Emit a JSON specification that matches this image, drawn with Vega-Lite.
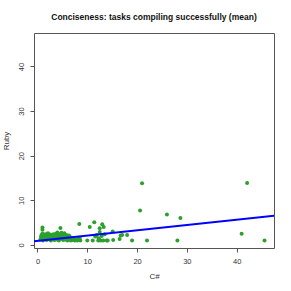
{
  "$schema": "https://vega.github.io/schema/vega-lite/v6.json",
  "width": 240,
  "height": 215,
  "autosize": "none",
  "padding": {"left": 34, "top": 33, "right": 17, "bottom": 43},
  "background": "white",
  "config": {
    "font": "Liberation Sans",
    "view": {"stroke": "#555555", "strokeWidth": 1},
    "axis": {
      "grid": false,
      "domain": false,
      "tickColor": "#555555",
      "tickSize": 4,
      "labelPadding": 5,
      "labelFontSize": 7.5,
      "labelColor": "#333333",
      "titleFontSize": 8,
      "titleFontWeight": "normal",
      "titleColor": "#333333",
      "labelFont": "Liberation Sans",
      "titleFont": "Liberation Sans"
    }
  },
  "title": {
    "text": "Conciseness: tasks compiling successfully (mean)",
    "fontSize": 8.5,
    "fontWeight": "bold",
    "font": "Liberation Sans",
    "color": "#111111",
    "anchor": "middle",
    "offset": 12
  },
  "datasets": {
    "pts": [
      {"cs": 0.6, "ruby": 1.2}, {"cs": 0.7, "ruby": 1.8}, {"cs": 0.8, "ruby": 2.2}, {"cs": 0.9, "ruby": 1.5},
      {"cs": 1.0, "ruby": 3.9}, {"cs": 1.0, "ruby": 3.4}, {"cs": 1.0, "ruby": 2.5}, {"cs": 1.1, "ruby": 1.0},
      {"cs": 1.2, "ruby": 2.0}, {"cs": 1.3, "ruby": 1.6}, {"cs": 1.4, "ruby": 2.3}, {"cs": 1.5, "ruby": 1.3},
      {"cs": 1.6, "ruby": 1.9}, {"cs": 1.7, "ruby": 2.4}, {"cs": 1.8, "ruby": 1.1}, {"cs": 1.9, "ruby": 2.1},
      {"cs": 2.0, "ruby": 1.7}, {"cs": 2.1, "ruby": 2.6}, {"cs": 2.2, "ruby": 1.4}, {"cs": 2.3, "ruby": 2.0},
      {"cs": 2.4, "ruby": 1.2}, {"cs": 2.5, "ruby": 2.3}, {"cs": 2.6, "ruby": 1.8}, {"cs": 2.7, "ruby": 1.0},
      {"cs": 2.8, "ruby": 2.2}, {"cs": 2.9, "ruby": 1.5}, {"cs": 3.0, "ruby": 2.0}, {"cs": 3.1, "ruby": 1.3},
      {"cs": 3.2, "ruby": 2.4}, {"cs": 3.3, "ruby": 1.7}, {"cs": 3.4, "ruby": 1.1}, {"cs": 3.5, "ruby": 2.1},
      {"cs": 3.6, "ruby": 1.6}, {"cs": 3.7, "ruby": 2.5}, {"cs": 3.8, "ruby": 1.2}, {"cs": 3.9, "ruby": 1.9},
      {"cs": 4.0, "ruby": 2.8}, {"cs": 4.1, "ruby": 1.4}, {"cs": 4.2, "ruby": 2.2}, {"cs": 4.3, "ruby": 1.0},
      {"cs": 4.4, "ruby": 1.8}, {"cs": 4.5, "ruby": 2.4}, {"cs": 4.6, "ruby": 3.8}, {"cs": 4.6, "ruby": 1.5},
      {"cs": 4.7, "ruby": 2.0}, {"cs": 4.8, "ruby": 2.7}, {"cs": 4.9, "ruby": 1.3}, {"cs": 5.0, "ruby": 2.2},
      {"cs": 5.1, "ruby": 1.7}, {"cs": 5.2, "ruby": 1.1}, {"cs": 5.3, "ruby": 2.0}, {"cs": 5.4, "ruby": 2.6},
      {"cs": 5.5, "ruby": 1.5}, {"cs": 5.6, "ruby": 1.9}, {"cs": 5.7, "ruby": 1.2}, {"cs": 5.8, "ruby": 2.2},
      {"cs": 5.9, "ruby": 1.6}, {"cs": 6.0, "ruby": 1.0}, {"cs": 6.1, "ruby": 2.0}, {"cs": 6.2, "ruby": 1.4},
      {"cs": 6.3, "ruby": 2.1}, {"cs": 6.4, "ruby": 1.2}, {"cs": 6.5, "ruby": 1.8}, {"cs": 6.7, "ruby": 1.0},
      {"cs": 6.9, "ruby": 1.5}, {"cs": 7.1, "ruby": 1.1}, {"cs": 7.3, "ruby": 1.3}, {"cs": 7.5, "ruby": 1.0},
      {"cs": 7.8, "ruby": 1.2}, {"cs": 8.0, "ruby": 1.0}, {"cs": 8.2, "ruby": 1.4}, {"cs": 8.4, "ruby": 4.7},
      {"cs": 8.5, "ruby": 1.6}, {"cs": 8.6, "ruby": 1.0},
      {"cs": 10.0, "ruby": 1.0}, {"cs": 10.5, "ruby": 4.0}, {"cs": 11.1, "ruby": 1.0}, {"cs": 11.4, "ruby": 5.1},
      {"cs": 11.6, "ruby": 1.9}, {"cs": 11.9, "ruby": 2.2}, {"cs": 12.2, "ruby": 1.0}, {"cs": 12.3, "ruby": 1.5},
      {"cs": 12.5, "ruby": 2.9}, {"cs": 12.5, "ruby": 3.7}, {"cs": 12.7, "ruby": 1.0}, {"cs": 12.9, "ruby": 2.0},
      {"cs": 13.0, "ruby": 4.6}, {"cs": 13.2, "ruby": 1.0}, {"cs": 13.3, "ruby": 4.0}, {"cs": 13.5, "ruby": 2.4},
      {"cs": 13.9, "ruby": 1.0}, {"cs": 14.1, "ruby": 1.0}, {"cs": 15.1, "ruby": 3.0}, {"cs": 15.2, "ruby": 1.1},
      {"cs": 16.5, "ruby": 1.3}, {"cs": 16.7, "ruby": 2.1}, {"cs": 17.0, "ruby": 2.2}, {"cs": 18.0, "ruby": 2.2},
      {"cs": 19.0, "ruby": 1.0}, {"cs": 20.6, "ruby": 7.7}, {"cs": 21.0, "ruby": 13.8}, {"cs": 22.0, "ruby": 1.0},
      {"cs": 26.0, "ruby": 6.8}, {"cs": 28.1, "ruby": 1.0}, {"cs": 28.7, "ruby": 6.0}, {"cs": 41.0, "ruby": 2.5},
      {"cs": 42.1, "ruby": 13.9}, {"cs": 45.6, "ruby": 1.0}
    ],
    "fit": [
      {"cs": -2, "ruby": 0.67},
      {"cs": 50, "ruby": 6.85}
    ]
  },
  "layer": [
    {
      "data": {"name": "pts"},
      "mark": {"type": "circle", "size": 16, "color": "#2ca02c", "opacity": 1, "clip": true},
      "encoding": {
        "x": {
          "field": "cs", "type": "quantitative", "title": "C#",
          "scale": {"domain": [-0.7, 47.5], "nice": false, "zero": false},
          "axis": {"values": [0, 10, 20, 30, 40], "titlePadding": 8}
        },
        "y": {
          "field": "ruby", "type": "quantitative", "title": "Ruby",
          "scale": {"domain": [-0.7, 47.5], "nice": false, "zero": false},
          "axis": {"values": [0, 10, 20, 30, 40], "labelAngle": -90, "titlePadding": 7}
        }
      }
    },
    {
      "data": {"name": "fit"},
      "mark": {"type": "line", "color": "#0000ff", "strokeWidth": 2, "clip": true},
      "encoding": {
        "x": {"field": "cs", "type": "quantitative"},
        "y": {"field": "ruby", "type": "quantitative"}
      }
    }
  ]
}
